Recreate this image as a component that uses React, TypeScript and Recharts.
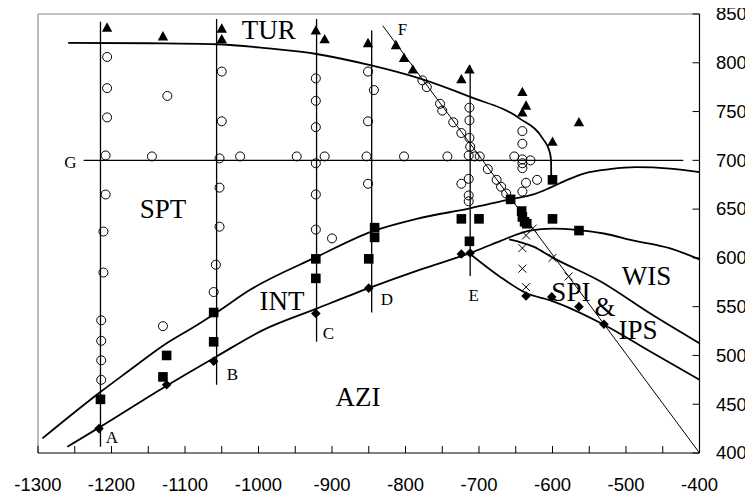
import { ComposedChart, Line, Scatter, XAxis, YAxis, ReferenceLine } from 'recharts';

// phase fields (x ≈ -1300..-400, y ≈ 400..850)
const X_TICKS = [-1300, -1250, -1200, -1150, -1100, -1050, -1000, -950, -900, -850, -800, -750, -700, -650, -600, -550, -500, -450, -400];
const Y_TICKS = [400, 450, 500, 550, 600, 650, 700, 750, 800, 850];

const TUR_PTS = [
  [-1206, 836], [-1130, 827], [-1050, 835], [-1050, 824], [-922, 833], [-910, 824], [-851, 820],
  [-813, 818], [-802, 805], [-790, 793], [-724, 783], [-713, 793], [-641, 770], [-636, 756],
  [-641, 749], [-600, 719], [-564, 739],
];

const SPT_PTS = [
  [-1206, 806], [-1206, 774], [-1206, 744], [-1208, 705], [-1145, 704], [-1124, 766], [-1050, 791],
  [-1050, 740], [-1053, 702], [-1025, 704], [-948, 704], [-922, 784], [-922, 761], [-922, 734],
  [-922, 697], [-910, 704], [-851, 791], [-843, 772], [-851, 740], [-853, 704], [-851, 676],
  [-1208, 665], [-1211, 627], [-1053, 672], [-1053, 632], [-922, 665], [-922, 629], [-900, 620],
  [-1211, 585], [-1214, 536], [-1214, 515], [-1214, 495], [-1214, 475], [-1130, 530], [-1058, 593],
  [-1061, 565], [-802, 704], [-743, 704], [-777, 782], [-771, 775], [-753, 758], [-750, 751],
  [-735, 739], [-724, 728], [-713, 754], [-713, 741], [-713, 723], [-712, 714], [-714, 705],
  [-706, 704], [-699, 704], [-688, 691], [-676, 680], [-670, 673], [-663, 666], [-724, 676],
  [-714, 681], [-714, 664], [-714, 658], [-652, 704], [-641, 730], [-641, 717], [-641, 701],
  [-641, 697], [-641, 692], [-630, 700], [-636, 677], [-621, 680], [-641, 668],
];

const INT_PTS = [
  [-1215, 455], [-1125, 500], [-1130, 478], [-1061, 544], [-1061, 514], [-922, 599], [-922, 579],
  [-850, 599], [-842, 631], [-842, 621], [-724, 640], [-700, 640], [-713, 617], [-657, 660],
  [-642, 648], [-641, 642], [-638, 637], [-635, 635], [-600, 680], [-600, 640], [-564, 628],
];

const AZI_PTS = [
  [-1217, 425], [-1125, 470], [-1061, 494], [-922, 543], [-850, 569], [-724, 604], [-712, 605],
  [-636, 561], [-601, 560], [-564, 550], [-530, 532],
];

const WIS_PTS = [
  [-636, 623], [-641, 610], [-641, 589], [-636, 570], [-627, 630], [-600, 600], [-578, 581],
];

// boundaries
const TUR_BOUND = [
  [-1259, 820.5], [-1150, 820], [-1057, 819], [-990, 815], [-921, 809], [-848, 797.5], [-781, 784],
  [-712, 765], [-645, 743], [-613, 722], [-604, 709], [-602, 700], [-601.7, 684],
];
const SPT_INT = [
  [-1294, 415], [-1216, 462], [-1175, 485], [-1130, 510], [-1084, 531], [-1057, 544], [-1012, 567],
  [-921, 601], [-846, 627], [-785, 640], [-711, 651], [-658, 660], [-626, 665], [-603, 672],
  [-580, 680], [-555, 687], [-522, 691], [-486, 693], [-440, 691.5], [-400, 688],
];
const INT_AZI = [
  [-1260, 406.5], [-1217, 426], [-1125, 469], [-1057, 499], [-994, 526], [-921, 548], [-850, 569],
  [-780, 588], [-712, 605], [-672, 617], [-631, 628], [-600, 630], [-565, 628.5], [-530, 625],
  [-491, 618], [-441, 610], [-400, 598.5],
];
const SPI_UPPER = [[-659, 619], [-626, 611.5], [-599, 600], [-535, 576], [-467, 543], [-400, 512.5]];
const SPI_LOWER = [[-712, 604], [-672, 581], [-636, 564], [-601, 556], [-530, 531.5], [-467, 504], [-400, 475]];

const LINE_A = [[-1215, 406.5], [-1215, 842]];
const LINE_B = [[-1057, 470], [-1057, 845]];
const LINE_C = [[-921, 514], [-921, 845]];
const LINE_D = [[-846, 544], [-846, 833]];
const LINE_E = [[-712, 581.5], [-712, 797]];
const LINE_F = [[-831, 838], [-400, 400]];
const LINE_G = [[-1238, 700], [-422, 700]];

const FIELD_NAMES = [
  { t: 'TUR', x: -986, y: 824 },
  { t: 'SPT', x: -1130, y: 641 },
  { t: 'INT', x: -968, y: 546.6 },
  { t: 'AZI', x: -864.6, y: 448.5 },
  { t: 'WIS', x: -472, y: 572 },
  { t: 'SPI', x: -575, y: 556 },
  { t: '&', x: -528.6, y: 540.4 },
  { t: 'IPS', x: -483.7, y: 517 },
];
const SECTION_NAMES = [
  { t: 'A', x: -1199.3, y: 410.3 },
  { t: 'B', x: -1035.4, y: 474.8 },
  { t: 'C', x: -905, y: 516.9 },
  { t: 'D', x: -825.2, y: 551.7 },
  { t: 'E', x: -707.1, y: 555.8 },
  { t: 'F', x: -804.1, y: 828.5 },
  { t: 'G', x: -1256, y: 691.8 },
];

const xy = (a: number[][]) => a.map(([x, y]) => ({ x, y }));

const SANS = 'Liberation Sans, Arial, sans-serif';
const SERIF = 'Liberation Serif, Times New Roman, serif';

function XTick(props: any) {
  const { x, y, payload } = props;
  const v = payload.value;
  return (
    <g>
      <line x1={x} x2={x} y1={y} y2={y - 7} stroke="#000" />
      {v % 100 === 0 && (
        <text x={x} y={y + 37.5} textAnchor="middle" fontSize={18.5} fontFamily={SANS} fill="#000">{v}</text>
      )}
    </g>
  );
}

function YTick(props: any) {
  const { x, y, payload } = props;
  return (
    <g>
      <line x1={x - 7} x2={x} y1={y} y2={y} stroke="#000" />
      <text x={x + 16.5} y={y + 6.3} textAnchor="start" fontSize={18.5} fontFamily={SANS} fill="#000">{payload.value}</text>
    </g>
  );
}

const circle = ({ cx, cy }: any) => <circle cx={cx} cy={cy} r={4.5} fill="none" stroke="#000" strokeWidth={1} />;
const square = ({ cx, cy }: any) => <rect x={cx - 4.8} y={cy - 4.8} width={9.6} height={9.6} fill="#000" />;
const diamond = ({ cx, cy }: any) => (
  <polygon points={`${cx},${cy - 4.8} ${cx + 4.8},${cy} ${cx},${cy + 4.8} ${cx - 4.8},${cy}`} fill="#000" />
);
const triangle = ({ cx, cy }: any) => (
  <polygon points={`${cx},${cy - 5.4} ${cx + 5.2},${cy + 4} ${cx - 5.2},${cy + 4}`} fill="#000" />
);
const xmark = ({ cx, cy }: any) => (
  <path d={`M${cx - 4},${cy - 4}L${cx + 4},${cy + 4}M${cx - 4},${cy + 4}L${cx + 4},${cy - 4}`} stroke="#000" strokeWidth={1} />
);
const bigLabel = ({ cx, cy, payload }: any) => (
  <text x={cx} y={cy} textAnchor="middle" fontSize={27} fontFamily={SERIF} fill="#000">{payload.t}</text>
);
const smallLabel = ({ cx, cy, payload }: any) => (
  <text x={cx} y={cy} textAnchor="middle" fontSize={17} fontFamily={SERIF} fill="#000">{payload.t}</text>
);

const curve = (pts: number[][], key: string) => (
  <Line key={key} data={xy(pts)} dataKey="y" type="monotone" stroke="#000" strokeWidth={1.8}
    dot={false} activeDot={false} isAnimationActive={false} />
);
const straight = (pts: number[][], key: string, w = 1.3) => (
  <Line key={key} data={xy(pts)} dataKey="y" type="linear" stroke="#000" strokeWidth={w}
    dot={false} activeDot={false} isAnimationActive={false} />
);

export default function App() {
  // cancel the default body margin so chart pixels line up with the page
  return (
    <div style={{ width: 753, height: 499, margin: '-8px 0 0 -8px', background: '#fff' }}>
      <ComposedChart width={753} height={499} margin={{ top: 14, right: 3.5, bottom: 6, left: 38 }}>
        <XAxis type="number" dataKey="x" domain={[-1300, -400]} ticks={X_TICKS} interval={0}
          tick={<XTick />} tickLine={false} tickSize={0} tickMargin={0} height={40}
          axisLine={{ stroke: '#000', strokeWidth: 1.2 }} />
        <YAxis type="number" dataKey="y" orientation="right" domain={[400, 850]} ticks={Y_TICKS} interval={0}
          tick={<YTick />} tickLine={false} tickSize={0} tickMargin={0} width={50}
          axisLine={{ stroke: '#000', strokeWidth: 1.2 }} />
        <ReferenceLine y={850} stroke="#8a8a8a" strokeWidth={1.2} />
        <ReferenceLine x={-1300} stroke="#8a8a8a" strokeWidth={1.2} />

        {straight(LINE_A, 'A')}
        {straight(LINE_B, 'B')}
        {straight(LINE_C, 'C')}
        {straight(LINE_D, 'D')}
        {straight(LINE_E, 'E')}
        {straight(LINE_G, 'G')}
        {straight(LINE_F, 'F', 1)}

        {curve(TUR_BOUND, 'tur')}
        {curve(SPT_INT, 'sptint')}
        {curve(INT_AZI, 'intazi')}
        {curve(SPI_UPPER, 'spiup')}
        {curve(SPI_LOWER, 'spilow')}

        <Scatter data={xy(SPT_PTS)} shape={circle} isAnimationActive={false} />
        <Scatter data={xy(TUR_PTS)} shape={triangle} isAnimationActive={false} />
        <Scatter data={xy(INT_PTS)} shape={square} isAnimationActive={false} />
        <Scatter data={xy(AZI_PTS)} shape={diamond} isAnimationActive={false} />
        <Scatter data={xy(WIS_PTS)} shape={xmark} isAnimationActive={false} />
        <Scatter data={FIELD_NAMES} shape={bigLabel} isAnimationActive={false} />
        <Scatter data={SECTION_NAMES} shape={smallLabel} isAnimationActive={false} />
      </ComposedChart>
    </div>
  );
}
